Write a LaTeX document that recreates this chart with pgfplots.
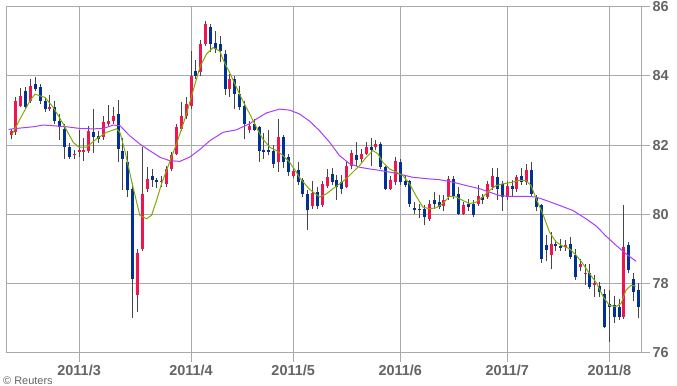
\documentclass[border=0pt]{standalone}
\usepackage{fontspec}
\setmainfont{Liberation Sans}
\usepackage{pgfplots}
\pgfplotsset{compat=1.18}
\usepackage{pgfplotstable}

\definecolor{upc}{RGB}{240,20,80}
\definecolor{dnc}{RGB}{0,50,150}
\definecolor{wick}{RGB}{70,70,70}
\definecolor{maS}{RGB}{130,170,0}
\definecolor{maL}{RGB}{170,60,250}
\definecolor{gridc}{RGB}{170,170,170}
\definecolor{labc}{RGB}{100,100,100}

% up candles (close > open): index open high low close
\pgfplotstableread{
i o h l c
0 82.30 82.47 82.18 82.42
1 82.37 83.38 82.30 83.28
2 83.14 83.65 83.09 83.43
4 83.28 83.91 83.23 83.71
8 83.04 83.45 82.98 83.11
13 81.70 81.85 81.60 81.75
14 81.81 82.45 81.65 81.87
15 81.81 82.20 81.55 81.87
16 81.84 82.55 81.78 82.42
19 82.22 82.85 82.15 82.66
20 82.61 83.15 82.55 82.71
21 82.71 83.10 82.60 82.85
26 77.66 79.00 77.18 78.87
27 79.01 81.95 78.95 80.59
28 80.74 81.36 80.65 81.03
31 80.92 81.10 80.80 80.97
32 80.89 81.40 80.80 81.32
33 81.32 81.80 81.25 81.70
34 81.75 82.60 81.70 82.51
35 82.47 83.25 82.40 82.85
36 82.85 83.40 82.75 83.19
37 83.14 84.72 83.05 84.00
39 84.10 85.05 84.00 84.92
40 84.92 85.58 84.85 85.49
45 83.62 84.05 83.40 83.91
49 82.44 82.70 82.35 82.56
55 81.50 82.75 81.22 82.22
58 81.12 81.35 81.05 81.24
62 80.23 80.95 80.15 80.62
64 80.26 80.95 80.20 80.88
65 80.83 81.30 80.75 81.07
69 80.80 81.50 80.75 81.41
70 81.41 81.85 81.30 81.76
72 81.60 81.90 81.50 81.75
73 81.75 82.10 81.70 81.94
75 81.94 82.15 81.85 82.03
78 80.74 81.10 80.70 80.98
79 80.93 81.65 80.85 81.55
86 79.87 80.40 79.80 80.31
89 80.23 80.55 80.10 80.42
90 80.50 81.10 80.40 81.03
93 80.02 80.35 79.98 80.26
96 80.31 80.85 80.25 80.54
98 80.50 80.95 80.45 80.88
99 80.78 81.35 80.70 81.12
102 80.50 80.95 80.40 80.83
104 80.74 81.15 80.65 81.07
106 80.93 81.45 80.85 81.27
111 78.82 79.49 78.43 79.15
114 79.06 79.25 78.95 79.10
117 78.48 78.70 78.35 78.56
118 78.27 78.55 77.95 78.31
120 77.95 78.25 77.60 78.00
126 77.04 80.26 76.98 79.05
}\up

% down candles (close < open)
\pgfplotstableread{
i o h l c
3 83.57 83.69 83.05 83.09
5 83.76 83.97 83.55 83.62
6 83.67 83.76 83.19 83.28
7 83.28 83.38 82.95 83.04
9 83.09 83.28 82.62 82.71
10 82.71 82.90 82.15 82.51
11 82.47 82.61 81.60 81.94
12 81.94 82.05 81.60 81.65
17 82.37 83.04 81.78 82.22
18 82.27 82.40 82.05 82.18
22 82.90 83.30 81.50 81.89
23 81.84 82.20 80.69 81.61
24 81.50 81.84 80.50 80.69
25 80.74 80.90 77.00 78.14
29 81.12 81.30 80.80 80.98
30 80.98 81.05 80.75 80.92
38 84.15 84.45 83.90 84.00
41 85.40 85.50 84.70 84.92
42 84.96 85.30 84.65 84.77
43 84.92 85.15 84.40 84.72
44 84.63 84.75 83.45 83.62
46 83.91 84.00 83.05 83.48
47 83.48 83.70 83.00 83.09
48 83.14 83.28 82.18 82.61
50 82.61 82.75 82.40 82.44
51 82.51 82.55 81.50 81.84
52 81.86 82.35 81.60 81.80
53 81.86 82.45 81.70 81.81
54 81.84 82.00 81.35 81.46
56 82.22 82.30 81.35 81.50
57 81.65 81.75 81.10 81.22
59 81.27 81.50 80.85 80.93
60 80.98 81.05 80.50 80.59
61 80.59 80.70 79.54 80.11
63 80.64 80.80 80.15 80.24
66 81.17 81.35 80.85 80.93
67 81.00 81.15 80.40 80.80
68 80.93 81.15 80.60 80.74
71 81.70 82.10 81.40 81.57
74 81.94 82.20 81.40 81.86
76 82.03 82.10 81.30 81.36
77 81.36 81.40 80.70 80.74
80 81.50 81.60 80.85 80.93
81 80.95 81.15 80.80 80.86
82 80.95 81.00 80.20 80.30
83 80.19 80.35 80.00 80.13
84 80.16 80.30 79.90 80.11
85 80.16 80.26 79.68 79.92
87 80.40 80.65 80.15 80.31
88 80.36 80.55 80.15 80.21
91 81.03 81.10 80.45 80.54
92 80.59 80.80 79.98 80.02
94 80.31 80.45 80.10 80.21
95 80.31 80.40 79.92 79.97
97 80.50 80.60 80.30 80.40
100 81.07 81.35 80.40 80.74
101 80.88 80.95 80.10 80.50
103 80.83 81.00 80.50 80.74
105 81.12 81.35 80.85 80.93
107 81.27 81.50 80.50 80.59
108 80.50 80.55 80.10 80.21
109 80.26 80.30 78.58 78.72
110 79.10 79.40 78.65 78.96
112 79.15 79.25 78.95 79.09
113 79.08 79.30 78.95 79.04
115 79.15 79.35 78.70 78.77
116 78.82 79.00 78.10 78.19
119 78.31 78.55 77.85 77.90
121 77.92 78.05 77.60 77.76
122 77.69 77.85 76.70 76.75
123 77.40 77.81 76.32 77.31
124 77.37 77.65 76.85 77.04
125 77.33 77.55 76.95 77.04
127 79.10 79.20 78.30 78.38
128 78.14 78.30 77.50 77.76
129 77.81 78.00 77.00 77.33
}\dn

\pgfplotsset{
  candle/.style={only marks, mark=*, mark size=0pt,
    mark options={draw=none, fill=none, draw opacity=0, fill opacity=0},
    error bars/.cd, y dir=plus, y explicit, error mark=none,
    error bar style={draw=#1}},
}

\begin{document}
\begin{tikzpicture}
\begin{axis}[
  scale only axis, width=635bp, height=346bp,
  xmin=-1.03, xmax=129.5, ymin=76, ymax=86,
  xtick={14,37,58,80,102,123},
  xticklabels={2011/3,2011/4,2011/5,2011/6,2011/7,2011/8},
  ytick={76,78,80,82,84,86},
  xtick pos=left, ytick pos=right, yticklabel pos=right,
  tick align=outside, major tick length=9bp,
  grid=major, grid style={draw=gridc, line width=1bp},
  axis line style={draw=gridc, line width=1bp},
  tick style={draw=gridc, line width=1bp},
  ticklabel style={font=\fontsize{14.5}{16}\selectfont\bfseries, text=labc},
  /pgf/number format/assume math mode=true,
  yticklabel style={xshift=-1bp},
]
% wicks
\addplot[candle={wick, line width=1bp}]
  table[x=i, y=l, y error plus expr=\thisrow{h}-\thisrow{l}] {\up};
\addplot[candle={wick, line width=1bp}]
  table[x=i, y=l, y error plus expr=\thisrow{h}-\thisrow{l}] {\dn};
% bodies
\addplot[candle={upc, line width=3bp}]
  table[x=i, y=o, y error plus expr=\thisrow{c}-\thisrow{o}] {\up};
\addplot[candle={dnc, line width=3bp}]
  table[x=i, y=c, y error plus expr=\thisrow{o}-\thisrow{c}] {\dn};
% long moving average
\addplot[maL, line width=1bp, mark=none] coordinates {
(-0.5,82.45) (0.3,82.47) (4.6,82.53) (6.6,82.58) (8.7,82.56) (11.4,82.53) (14.2,82.48) (16.9,82.47) (19,82.48) (21,82.58) (22.4,82.56) (24.4,82.27) (26.5,82.03) (28.5,81.84) (30.6,81.65) (32.6,81.55) (34.7,81.53) (36.7,81.65) (38.8,81.87) (40.9,82.13) (43.6,82.37) (46.3,82.44) (49.1,82.62) (50.4,82.75) (52.5,82.93) (55.2,83.04) (57.3,83.01) (59.3,82.90) (61.4,82.69) (63.4,82.42) (65.5,82.08) (67.5,81.70) (69.6,81.46) (71.7,81.36) (73.7,81.31) (75.8,81.27) (77.8,81.22) (79.9,81.16) (82.6,81.07) (85.4,81.03) (88.1,81.0) (90.8,80.93) (93.6,80.83) (96.3,80.74) (98.4,80.64) (100.4,80.54) (102.5,80.52) (105.9,80.52) (107.9,80.50) (110,80.40) (112.7,80.26) (115.5,80.11) (118.2,79.87) (120.3,79.66) (122.3,79.37) (124.4,79.10) (126.4,78.86) (128.5,78.64)
};
% short moving average
\addplot[maS, line width=1bp, mark=none] coordinates {
(0.26,82.32) (1.84,82.75) (3.89,83.28) (4.92,83.47) (6.97,83.38) (8.68,83.09) (10.74,82.61) (12.79,82.08) (13.96,81.94) (15.54,81.94) (17.59,82.18) (19.65,82.37) (21.70,82.47) (22.38,82.37) (23.40,81.84) (24.84,80.93) (26.48,79.97) (27.86,79.87) (28.89,79.97) (29.91,80.40) (30.94,80.88) (31.97,81.27) (32.99,81.65) (34.02,82.04) (34.70,82.32) (36.07,82.90) (37.43,83.57) (38.80,84.24) (40.18,84.63) (41.54,84.82) (42.90,84.72) (43.73,84.43) (44.96,84.09) (46.34,83.67) (47.63,83.28) (49.07,82.90) (50.45,82.51) (51.74,82.18) (53.17,81.94) (54.55,81.84) (55.91,81.70) (57.28,81.50) (58.66,81.22) (59.34,81.05) (61.39,80.72) (63.44,80.50) (64.82,80.59) (66.18,80.74) (67.56,80.88) (68.93,81.03) (70.28,81.22) (71.66,81.41) (73.03,81.65) (74.39,81.84) (75.42,81.75) (76.44,81.50) (77.82,81.31) (79.19,81.22) (80.55,81.12) (81.93,80.88) (83.30,80.52) (84.66,80.21) (86.03,80.16) (87.41,80.19) (88.76,80.31) (90.14,80.52) (91.51,80.50) (92.87,80.40) (94.25,80.31) (95.62,80.35) (96.98,80.50) (98.36,80.69) (99.73,80.83) (101.08,80.88) (103.14,80.93) (104.51,80.98) (105.89,80.98) (106.91,80.83) (107.94,80.45) (109.30,80.02) (110.67,79.49) (112.05,79.20) (113.40,79.08) (114.78,79.01) (116.16,78.82) (117.51,78.58) (118.89,78.29) (120.32,78.02) (121.76,77.61) (122.99,77.37) (124.30,77.33) (125.40,77.42) (126.42,77.81) (127.45,77.95) (128.47,77.92)
};
\coordinate (BL) at (rel axis cs:0,0);
\coordinate (TR) at (rel axis cs:1,1);
\end{axis}
\node[anchor=base west, inner sep=0pt, font=\fontsize{11}{12}\selectfont, text=labc]
  at ([xshift=-3bp,yshift=-31.8bp]BL) {© Reuters};
\pgfresetboundingbox
\path[use as bounding box] ([xshift=-6bp,yshift=-33.3bp]BL) rectangle ([xshift=36bp,yshift=6.7bp]TR);
\end{tikzpicture}
\end{document}
